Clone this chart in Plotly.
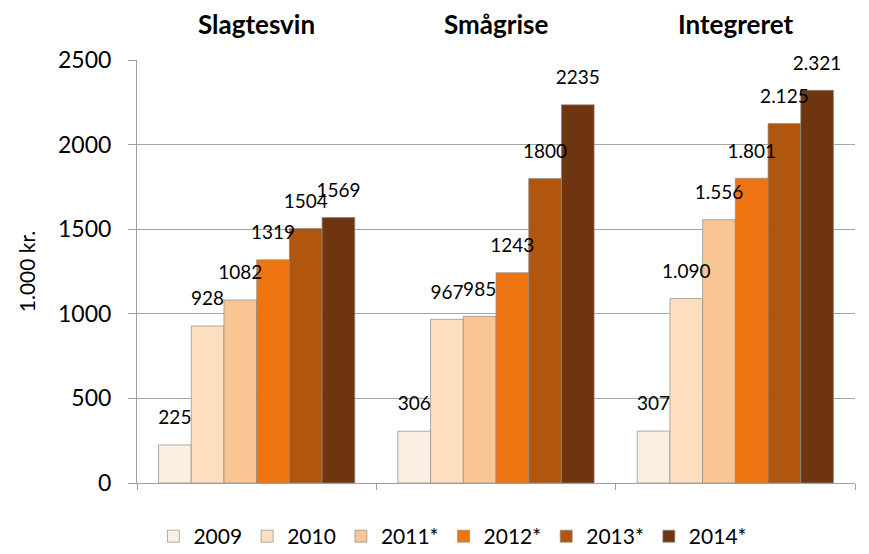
import plotly.graph_objects as go

categories = ["Slagtesvin", "Smågrise", "Integreret"]
years = ["2009", "2010", "2011*", "2012*", "2013*", "2014*"]
values = {
    "2009": [225, 306, 307],
    "2010": [928, 967, 1090],
    "2011*": [1082, 985, 1556],
    "2012*": [1319, 1243, 1801],
    "2013*": [1504, 1800, 2125],
    "2014*": [1569, 2235, 2321],
}
labels = {
    "2009": ["225", "306", "307"],
    "2010": ["928", "967", "1.090"],
    "2011*": ["1082", "985", "1.556"],
    "2012*": ["1319", "1243", "1.801"],
    "2013*": ["1504", "1800", "2.125"],
    "2014*": ["1569", "2235", "2.321"],
}
colors = ["#FBEFE2", "#FDDFC0", "#F9C594", "#EE7412", "#B0560F", "#6E3510"]
y_ticks = [0, 500, 1000, 1500, 2000, 2500]

FONT = "Lato"
GAP = 0.18

fig = go.Figure()
for yr, col in zip(years, colors):
    fig.add_trace(go.Bar(
        name=yr, x=categories, y=values[yr],
        marker=dict(color=col, line=dict(color="rgba(140,140,140,0.7)", width=1)),
        hoverinfo="skip",
    ))
for yr in years:
    fig.add_trace(go.Scatter(
        x=categories, y=values[yr], mode="markers+text", text=labels[yr],
        textposition="top center",
        marker=dict(size=24, color="rgba(0,0,0,0)"),
        textfont=dict(family=FONT, size=19, color="black"),
        showlegend=False, hoverinfo="skip", cliponaxis=False,
    ))

for c in categories:
    fig.add_annotation(x=c, xref="x", y=1.0, yref="paper", yanchor="bottom", yshift=18,
                       text="<b>" + c + "</b>", showarrow=False,
                       font=dict(family=FONT, size=26, color="black"))

fig.update_layout(
    width=869, height=554,
    barmode="group", bargap=GAP, bargroupgap=0,
    scattermode="group", scattergap=GAP,
    plot_bgcolor="white", paper_bgcolor="white",
    margin=dict(l=129, r=22, t=52, b=79, autoexpand=False),
    font=dict(family=FONT, size=20, color="black"),
    showlegend=True,
    legend=dict(orientation="h", x=0.44, xanchor="center", y=-0.078, yanchor="top",
                font=dict(family=FONT, size=21), itemwidth=30, tracegroupgap=0),
)
fig.update_xaxes(showticklabels=False, showline=True, linecolor="#A0A0A0", linewidth=1,
                 ticks="outside", tickson="boundaries", ticklen=6, tickcolor="#A0A0A0",
                 showgrid=False)
fig.update_yaxes(range=[0, 2500], tickvals=y_ticks, showgrid=True, gridcolor="#A6A6A6", gridwidth=1,
                 showline=True, linecolor="#A0A0A0", ticks="outside", ticklen=8, tickcolor="#A0A0A0",
                 ticklabelstandoff=12,
                 tickfont=dict(family=FONT, size=23), zeroline=False,
                 title=dict(text="1.000 kr.", font=dict(family=FONT, size=21), standoff=16))

fig.write_html("out.html")
